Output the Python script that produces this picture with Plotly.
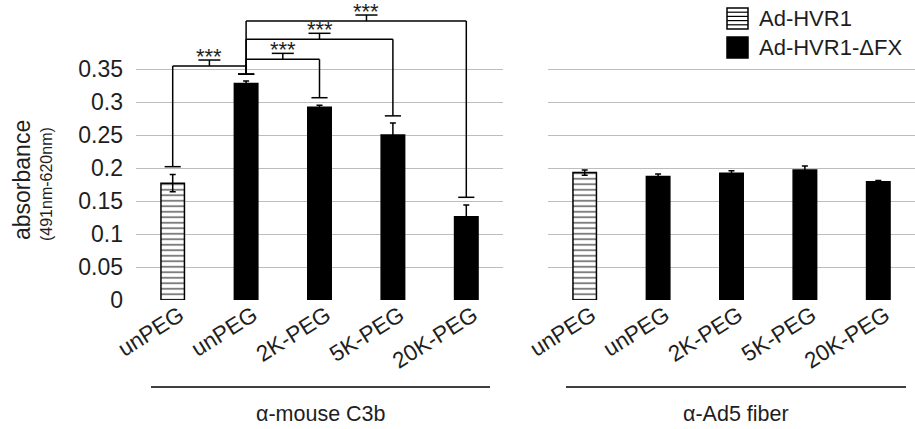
import plotly.graph_objects as go

# ---------------- data ----------------
categories = ["unPEG", "unPEG", "2K-PEG", "5K-PEG", "20K-PEG"]
series_names = ["Ad-HVR1", "Ad-HVR1-\u0394FX"]
series_of_bar = [0, 1, 1, 1, 1]          # which virus each bar belongs to
c3b_values = [0.177, 0.328, 0.292, 0.250, 0.126]
c3b_errors = [0.013, 0.004, 0.003, 0.018, 0.018]
fiber_values = [0.193, 0.187, 0.192, 0.197, 0.179]
fiber_errors = [0.004, 0.004, 0.004, 0.006, 0.002]
panel_titles = ["\u03b1-mouse C3b", "\u03b1-Ad5 fiber"]
y_ticks = [0, 0.05, 0.1, 0.15, 0.2, 0.25, 0.3, 0.35]
y_tick_labels = ["0", "0.05", "0.1", "0.15", "0.2", "0.25", "0.3", "0.35"]

# significance brackets (C3b panel): bar index pairs, bracket level, end drops
sig_pairs = [(0, 1), (1, 2), (1, 3), (1, 4)]
sig_levels = [0.3545, 0.3646, 0.395, 0.4227]
sig_left_ends = [0.202, 0.342, 0.342, 0.342]
sig_right_ends = [0.342, 0.3065, 0.279, 0.1556]
sig_star_x = [0.5, 1.5, 2.0, 2.64]
sig_labels = ["***", "***", "***", "***"]

# ---------------- layout helpers ----------------
W, H = 915, 429
ML, MR, MT, MB = 136, 0, 0, 129
PW, PH = W - ML - MR, H - MT - MB
FONT = "Liberation Sans, Arial, sans-serif"
TXT = "#1e1e1e"


def px_x(px):
    return (px - ML) / PW


def px_y(py):
    return (MT + PH - py) / PH


y_top = PH / 660.0  # pixels per unit ~660

fig = go.Figure()

bar_w = 0.32
panels = [(c3b_values, c3b_errors, "x", "y"), (fiber_values, fiber_errors, "x2", "y2")]
for vals, errs, xa, ya in panels:
    for s in range(len(series_names)):
        idx = [i for i in range(len(categories)) if series_of_bar[i] == s]
        if s == 0:
            marker = dict(color="white", line=dict(color="black", width=1.5),
                          pattern=dict(shape="-", fgcolor="black", bgcolor="white",
                                       size=5.5, solidity=0.35))
        else:
            marker = dict(color="black", line=dict(color="black", width=1.5))
        fig.add_trace(go.Bar(
            x=idx, y=[vals[i] for i in idx], width=bar_w, marker=marker,
            error_y=dict(type="data", array=[errs[i] for i in idx], color="black",
                         thickness=1.5, width=3),
            name=series_names[s], showlegend=False, xaxis=xa, yaxis=ya))

axis_common = dict(range=[-0.5, 4.5], tickmode="array", tickvals=list(range(len(categories))),
                   ticktext=categories, tickangle=-32, showgrid=False, zeroline=False,
                   showline=False, ticks="", ticklabelshift=7, ticklabelstandoff=-3,
                   tickfont=dict(size=22.5, family=FONT, color=TXT))
yaxis_common = dict(range=[0, y_top], tickmode="array", tickvals=y_ticks, showgrid=True,
                    gridcolor="#bdbdbd", gridwidth=1.3, zeroline=False, showline=False,
                    ticks="", tickfont=dict(size=23, family=FONT, color=TXT))

fig.update_layout(
    width=W, height=H, margin=dict(l=ML, r=MR, t=MT, b=MB),
    paper_bgcolor="white", plot_bgcolor="white", barmode="overlay",
    showlegend=False,
    xaxis=dict(domain=[0, px_x(503)], **axis_common),
    xaxis2=dict(domain=[px_x(548), 1], anchor="y2", **axis_common),
    yaxis=dict(ticktext=y_tick_labels, showticklabels=True, ticklabelstandoff=12, **yaxis_common),
    yaxis2=dict(anchor="x2", matches="y", showticklabels=False, **yaxis_common),
)

shapes = []
annotations = []
line_k = dict(color="black", width=1.5)
cap_half = 0.11
t_half = 0.15
t_stem = 6 / 660.0
for (a, b), lvl, le, re, sx, lab in zip(sig_pairs, sig_levels, sig_left_ends,
                                         sig_right_ends, sig_star_x, sig_labels):
    for x0, y0, x1, y1 in [(a, lvl, b, lvl), (a, le, a, lvl), (b, re, b, lvl),
                           (a - cap_half, le, a + cap_half, le),
                           (b - cap_half, re, b + cap_half, re),
                           (sx, lvl, sx, lvl + t_stem),
                           (sx - t_half, lvl + t_stem, sx + t_half, lvl + t_stem)]:
        shapes.append(dict(type="line", xref="x", yref="y", x0=x0, y0=y0, x1=x1, y1=y1,
                           line=line_k))
    annotations.append(dict(x=sx, y=lvl + t_stem + 3.5 / 660.0, xref="x", yref="y",
                            text=lab, showarrow=False, yanchor="middle",
                            font=dict(size=22, family=FONT, color=TXT)))

# group underlines and titles
for (x0, x1), title in zip([(151, 490), (566, 906)], panel_titles):
    shapes.append(dict(type="line", xref="paper", yref="paper", x0=px_x(x0), x1=px_x(x1),
                       y0=px_y(387), y1=px_y(387), line=dict(color="black", width=1.6)))
    annotations.append(dict(x=px_x((x0 + x1) / 2), y=px_y(428), xref="paper", yref="paper",
                            text=title, showarrow=False, xanchor="center", yanchor="bottom",
                            font=dict(size=21.5, family=FONT, color=TXT)))

# y axis title
annotations.append(dict(x=px_x(22), y=px_y(180), xref="paper", yref="paper", text="absorbance",
                        textangle=-90, showarrow=False, xanchor="center", yanchor="middle",
                        font=dict(size=23, family=FONT, color=TXT)))
annotations.append(dict(x=px_x(46), y=px_y(184), xref="paper", yref="paper",
                        text="(491nm-620nm)", textangle=-90, showarrow=False,
                        xanchor="center", yanchor="middle",
                        font=dict(size=16, family=FONT, color=TXT)))

# manual legend
leg_x0, leg_x1 = 727, 748
for k, (ytop, name) in enumerate(zip([8, 37], series_names)):
    ybot = ytop + 21
    fill = "white" if k == 0 else "black"
    shapes.append(dict(type="rect", xref="paper", yref="paper", x0=px_x(leg_x0), x1=px_x(leg_x1),
                       y0=px_y(ybot), y1=px_y(ytop), fillcolor=fill,
                       line=dict(color="black", width=1.5)))
    if k == 0:
        for j in range(1, 5):
            yy = ytop + j * 21 / 5
            shapes.append(dict(type="line", xref="paper", yref="paper", x0=px_x(leg_x0),
                               x1=px_x(leg_x1), y0=px_y(yy), y1=px_y(yy),
                               line=dict(color="black", width=1.2)))
    annotations.append(dict(x=px_x(757), y=px_y((ytop + ybot) / 2), xref="paper", yref="paper",
                            text=name, showarrow=False, xanchor="left", yanchor="middle",
                            font=dict(size=22, family=FONT, color=TXT)))

fig.update_layout(shapes=shapes, annotations=annotations)
fig.write_html("out.html", config={"displayModeBar": False},
               post_script="document.body.style.margin='0';document.body.style.overflow='hidden';")
